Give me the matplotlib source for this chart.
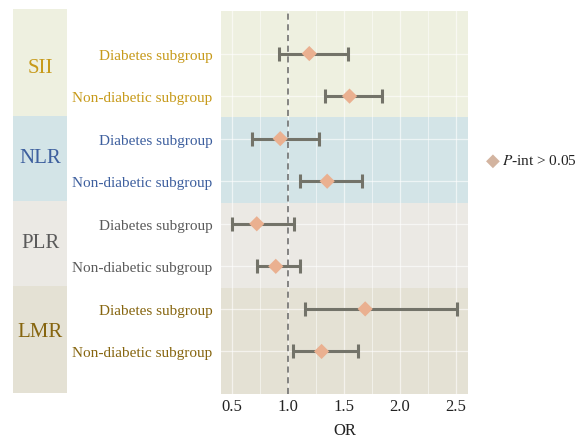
import matplotlib.pyplot as plt
import numpy as np

groups = ["SII", "NLR", "PLR", "LMR"]
subgroups = ["Diabetes subgroup", "Non-diabetic subgroup"]
or_est = [1.19, 1.55, 0.93, 1.35, 0.72, 0.89, 1.69, 1.30]
ci_low = [0.92, 1.33, 0.68, 1.11, 0.50, 0.72, 1.15, 1.04]
ci_high = [1.54, 1.84, 1.28, 1.66, 1.05, 1.11, 2.51, 1.63]
x_ticks = [0.5, 1.0, 1.5, 2.0, 2.5]

BAND_COLORS = ["#eef0e0", "#d3e4e7", "#ebe9e4", "#e4e1d4"]
TEXT_COLORS = ["#c79a1a", "#3d5f9e", "#5a5a5a", "#86650f"]
BAND_EDGES = [(6.5, 9.0), (4.5, 6.5), (2.5, 4.5), (0.0, 2.5)]
GROUP_LABEL_Y = [7.62, 5.52, 3.52, 1.45]

plt.rcParams["font.family"] = ["Liberation Serif", "DejaVu Serif"]
plt.rcParams["mathtext.fontset"] = "stix"

fig = plt.figure(figsize=(5.78, 4.39), dpi=100)
W, H = 578, 439
ax = fig.add_axes([221 / W, 1 - 395 / H, (468 - 221) / W, (395 - 12) / H])
strip = fig.add_axes([13 / W, 1 - 394 / H, (67 - 13) / W, (394 - 10) / H])

y_pos = np.arange(8, 0, -1)

for (lo, hi), color in zip(BAND_EDGES, BAND_COLORS):
    ax.axhspan(lo, hi, color=color, zorder=0, linewidth=0)
    strip.axhspan(lo, hi, color=color, zorder=0, linewidth=0)

ax.set_xlim(0.40, 2.61)
ax.set_ylim(0, 9)
for xv in np.arange(0.5, 2.6, 0.25):
    ax.axvline(xv, color="white", linewidth=0.6 if xv % 0.5 else 0.9, alpha=0.6, zorder=1)
for yv in y_pos:
    ax.axhline(yv, color="white", linewidth=0.9, alpha=0.6, zorder=1)

ax.axvline(1.0, color="#666666", linestyle=(0, (4, 3)), linewidth=1.1, zorder=2)

est = np.array(or_est)
ax.errorbar(est, y_pos, xerr=[est - np.array(ci_low), np.array(ci_high) - est],
            fmt="none", ecolor="#737369", elinewidth=2.2, capsize=5, capthick=2.2, zorder=3)
ax.scatter(est, y_pos, marker="D", s=60, color="#eab090", edgecolor="none", zorder=4)

for spine in ax.spines.values():
    spine.set_visible(False)
ax.set_xticks(x_ticks)
ax.set_xticklabels(["0.5", "1.0", "1.5", "2.0", "2.5"], fontsize=12)
ax.tick_params(axis="x", length=0, pad=3, colors="#222222")
ax.set_yticks(y_pos)
ax.set_yticklabels(subgroups * 4, fontsize=11)
ax.tick_params(axis="y", length=0, pad=6)
for i, lab in enumerate(ax.get_yticklabels()):
    lab.set_color(TEXT_COLORS[i // 2])
ax.set_xlabel("OR", fontsize=12, labelpad=6, color="#222222")

strip.set_xlim(0, 1)
strip.set_ylim(0, 9)
strip.axis("off")
for name, yc, color in zip(groups, GROUP_LABEL_Y, TEXT_COLORS):
    strip.text(0.5, yc, name, ha="center", va="center", fontsize=15, color=color)

fig.text(493 / W, 1 - 161 / H, "\u25C6", fontsize=13, color="#d3b4a0", ha="center", va="center",
         family=["DejaVu Sans"])
fig.text(502 / W, 1 - 161 / H, "$\\it{P}$-int > 0.05", fontsize=11, ha="left", va="center", color="#222222")

fig.savefig("out.png", dpi=100)
